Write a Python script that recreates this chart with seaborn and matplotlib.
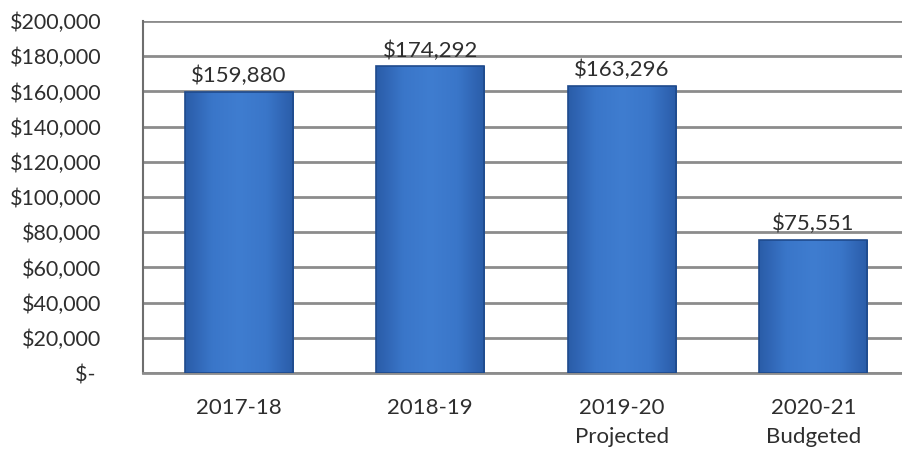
import numpy as np
import pandas as pd
import matplotlib
matplotlib.use("Agg")
import matplotlib.pyplot as plt
from matplotlib.colors import LinearSegmentedColormap
from matplotlib.ticker import FuncFormatter
import seaborn as sns

# Annual totals by fiscal year
categories = ["2017-18", "2018-19", "2019-20\nProjected", "2020-21\nBudgeted"]
amounts = [159880, 174292, 163296, 75551]
y_ticks = [0, 20000, 40000, 60000, 80000, 100000, 120000, 140000, 160000, 180000, 200000]

df = pd.DataFrame({"year": categories, "amount": amounts})

sns.set_theme(style="white")
plt.rcParams["font.family"] = ["Lato", "DejaVu Sans"]

fig = plt.figure(figsize=(9.02, 4.59), dpi=100)
ax = fig.add_axes([143 / 902, 1 - 373 / 459, 766 / 902, 352 / 459])

sns.barplot(data=df, x="year", y="amount", color="#3A73C6", width=0.565,
            edgecolor="#1F4A8C", linewidth=1.2, saturation=1, ax=ax, zorder=3)

# Shaded fill inside each bar for a rounded, glossy look
shade = LinearSegmentedColormap.from_list(
    "barshade", ["#2A5CA8", "#3A76C9", "#3F7DD0", "#3A76C9", "#2A5CA8"])
grad = np.linspace(0, 1, 256).reshape(1, -1)
for patch in list(ax.patches):
    x0, y0 = patch.get_x(), patch.get_y()
    w, h = patch.get_width(), patch.get_height()
    im = ax.imshow(grad, cmap=shade, aspect="auto",
                   extent=(x0, x0 + w, y0, y0 + h), zorder=3.5,
                   interpolation="bicubic")
    im.set_clip_path(patch)
    patch.set_facecolor("none")
    patch.set_zorder(4)

ax.set_xlim(-0.5, 3.5)
ax.set_ylim(0, 200000)
ax.set_yticks(y_ticks)

def money(v, pos):
    return "$- " if v == 0 else f"${v:,.0f}"

ax.yaxis.set_major_formatter(FuncFormatter(money))
ax.grid(axis="y", color="#8C8C8C", linewidth=2.0, zorder=0)
ax.set_axisbelow(True)

for side in ["top", "right"]:
    ax.spines[side].set_visible(False)
ax.spines["left"].set_color("#6E6E6E")
ax.spines["left"].set_linewidth(1.5)
ax.spines["bottom"].set_color("#8C8C8C")
ax.spines["bottom"].set_linewidth(2.0)

ax.tick_params(axis="y", length=0, pad=30, labelsize=15.5, labelcolor="#2E2E2E")
ax.tick_params(axis="x", length=0, pad=18, labelsize=16, labelcolor="#2E2E2E")
for lbl in ax.get_xticklabels():
    lbl.set_linespacing(1.55)
ax.set_xlabel("")
ax.set_ylabel("")

for i, v in enumerate(amounts):
    ax.annotate(f"${v:,}", xy=(i, v), xytext=(0, 4), textcoords="offset points",
                ha="center", va="bottom", fontsize=16, color="#2E2E2E", zorder=6)

fig.savefig("out.png", dpi=100, facecolor="white")
